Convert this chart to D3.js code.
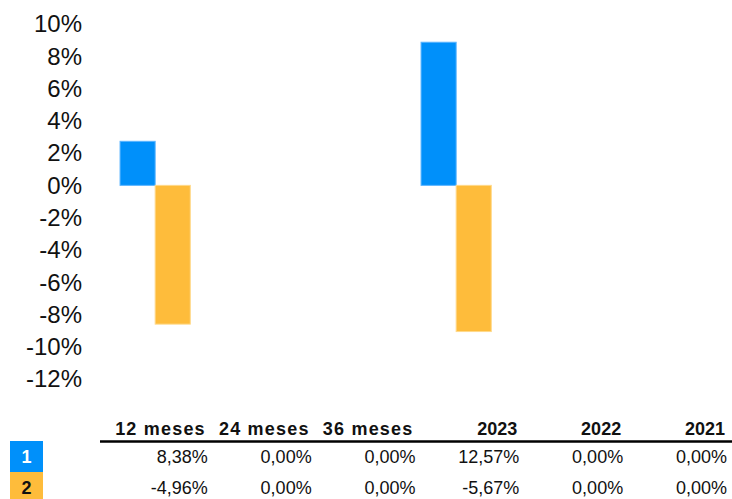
<!DOCTYPE html>
<meta charset="utf-8">
<script src="https://d3js.org/d3.v7.min.js"></script>
<style>
  body { margin: 0; background: #fff; }
  text { font-family: "Liberation Sans", Arial, sans-serif; }
</style>
<div id="my_dataviz"></div>
<script>
    // data
    var categories = ["12 meses", "24 meses", "36 meses", "2023", "2022", "2021"]
    var seriesNames = ["1", "2"]
    var barValues1 = [2.73, 0, 0, 8.87, 0, 0]      // bar heights as drawn (%)
    var barValues2 = [-8.6, 0, 0, -9.06, 0, 0]
    var tableValues1 = ["8,38%", "0,00%", "0,00%", "12,57%", "0,00%", "0,00%"]
    var tableValues2 = ["-4,96%", "0,00%", "0,00%", "-5,67%", "0,00%", "0,00%"]
    var yTicks = [10, 8, 6, 4, 2, 0, -2, -4, -6, -8, -10, -12]
    var colors = ["#0090FA", "#FEBC3B"]

    var width = 732
    var height = 499

    var svg = d3.select("#my_dataviz")
        .append("svg")
        .attr("width", width)
        .attr("height", height)

    // scales
    var y = d3.scaleLinear()
        .domain([-12, 10])
        .range([379, 24])

    var x = d3.scaleBand()
        .domain(categories)
        .range([105, 707])
        .paddingInner(0.3)
        .paddingOuter(0.15)

    var xSub = d3.scaleBand()
        .domain(seriesNames)
        .range([0, x.bandwidth()])

    // y axis labels (no line, no ticks)
    svg.append("g")
        .selectAll("text")
        .data(yTicks)
        .enter()
        .append("text")
        .attr("x", 82)
        .attr("y", d => y(d))
        .attr("dy", "0.35em")
        .attr("text-anchor", "end")
        .attr("font-size", "24px")
        .attr("fill", "#111")
        .text(d => d + "%")

    // bars
    var series = [barValues1, barValues2]
    series.forEach(function(vals, si) {
        svg.append("g")
            .selectAll("rect")
            .data(vals.map((v, i) => ({ cat: categories[i], v: v })).filter(d => d.v !== 0))
            .enter()
            .append("rect")
            .attr("x", d => x(d.cat) + xSub(seriesNames[si]))
            .attr("width", xSub.bandwidth())
            .attr("y", d => y(Math.max(0, d.v)))
            .attr("height", d => Math.abs(y(d.v) - y(0)))
            .attr("fill", colors[si])
            .attr("stroke", si === 0 ? "#5ab4ff" : "#ffd98a")
            .attr("stroke-width", 1)
    })

    // table
    var colRight = d3.scaleBand()
        .domain(categories)
        .range([104, 727])

    var table = svg.append("g")

    table.selectAll(".hdr")
        .data(categories)
        .enter()
        .append("text")
        .attr("class", "hdr")
        .attr("x", d => colRight(d) + colRight.bandwidth() - 2)
        .attr("y", 435)
        .attr("text-anchor", "end")
        .attr("font-size", "18px")
        .attr("font-weight", "bold")
        .attr("letter-spacing", d => d.indexOf("meses") > 0 ? "1.2px" : "0px")
        .attr("fill", "#111")
        .text(d => d)

    table.append("line")
        .attr("x1", 100)
        .attr("x2", 732)
        .attr("y1", 441.5)
        .attr("y2", 441.5)
        .attr("stroke", "#000")
        .attr("stroke-width", 2.5)

    var rows = [tableValues1, tableValues2]
    rows.forEach(function(vals, ri) {
        var cy = 457 + ri * 31
        table.selectAll(".row" + ri)
            .data(vals)
            .enter()
            .append("text")
            .attr("x", (d, i) => colRight(categories[i]) + colRight.bandwidth())
            .attr("y", cy)
            .attr("dy", "0.35em")
            .attr("text-anchor", "end")
            .attr("font-size", "18px")
            .attr("fill", "#111")
            .text(d => d)

        // legend box
        table.append("rect")
            .attr("x", 10)
            .attr("y", 441 + ri * 31)
            .attr("width", 33)
            .attr("height", 31)
            .attr("fill", colors[ri])
        table.append("text")
            .attr("x", 26.5)
            .attr("y", cy)
            .attr("dy", "0.35em")
            .attr("text-anchor", "middle")
            .attr("font-size", "18px")
            .attr("font-weight", "bold")
            .attr("fill", ri === 0 ? "#fff" : "#111")
            .text(seriesNames[ri])
    })
</script>
